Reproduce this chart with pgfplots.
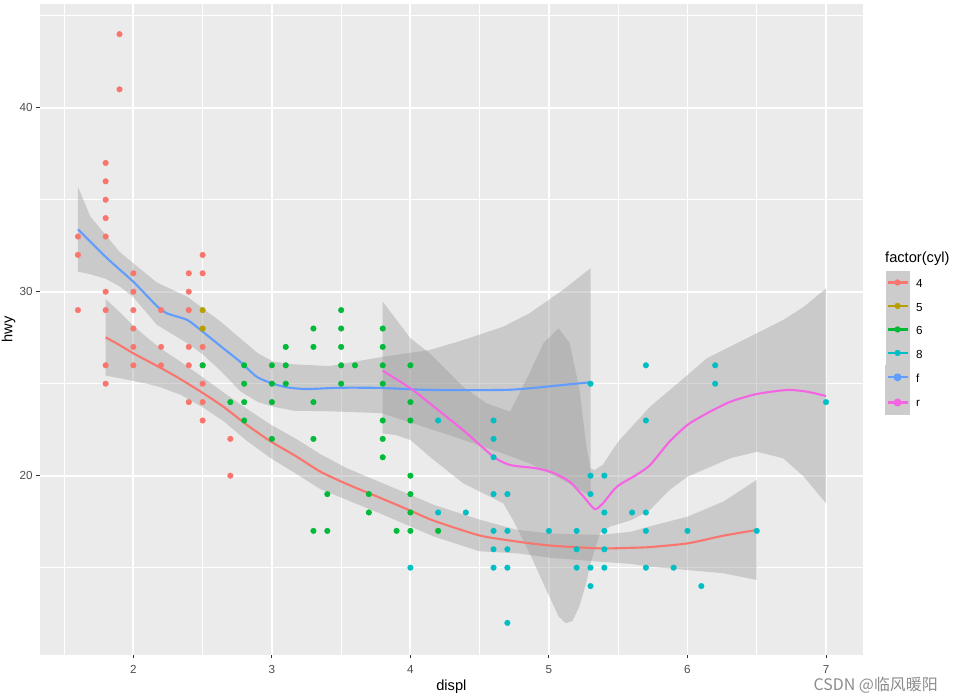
\documentclass[border=0pt]{standalone}
\usepackage{fontspec}
\setmainfont{Liberation Sans}
\newfontfamily\cjk{Noto Sans CJK SC}
\usepackage{pgfplots}
\pgfplotsset{compat=1.18}
\definecolor{c4}{HTML}{F8766D}
\definecolor{c5}{HTML}{B79F00}
\definecolor{c6}{HTML}{00BA38}
\definecolor{c8}{HTML}{00BFC4}
\definecolor{cf}{HTML}{619CFF}
\definecolor{cr}{HTML}{F564E3}
\definecolor{panelbg}{HTML}{EBEBEB}
\definecolor{ribbon}{HTML}{999999}
\definecolor{keybg}{HTML}{CCCCCC}
\definecolor{gray20}{HTML}{333333}
\definecolor{gray30}{HTML}{4D4D4D}
\pgfplotsset{
  legkey/.style={legend image code/.code={
    \fill[keybg] (0bp,-11.55bp) rectangle (23bp,11.55bp);
    \draw[line width=2.1bp,solid] (1.5bp,0bp) -- (21.5bp,0bp);
    \fill (11.5bp,0bp) circle (2.9bp);
  }},
  pts/.style={only marks, mark=*, mark size=2.8bp, mark options={draw=none}},
  rib/.style={forget plot, draw=none, fill=ribbon, fill opacity=0.4},
  sline/.style={no markers, line width=2.1bp, smooth, tension=0.4},
}
\begin{document}
\begin{tikzpicture}[x=1bp,y=1bp]
\useasboundingbox (0,0) rectangle (954,699);
\begin{axis}[
  at={(40bp,44.3bp)}, anchor=south west,
  scale only axis, width=822.7bp, height=650.7bp,
  xmin=1.326, xmax=7.265, ymin=10.27, ymax=45.64,
  axis background/.style={fill=panelbg},
  axis line style={draw=none},
  xtick={2,3,4,5,6,7}, ytick={20,30,40},
  minor xtick={1.5,2.5,3.5,4.5,5.5,6.5}, minor ytick={15,25,35,45},
  grid=both,
  major grid style={white, line width=1.9bp},
  minor grid style={white, line width=0.95bp},
  tick align=outside, tick pos=left,
  major tick length=3.7bp, minor tick length=0pt,
  major tick style={color=gray20, line width=1bp},
  /pgf/number format/assume math mode=true,
  tick label style={font=\fontsize{11.7}{14}\selectfont, text=gray30},
  xticklabel style={anchor=north, inner sep=0pt, yshift=-6.4bp},
  yticklabel style={anchor=east, inner sep=0pt, xshift=-3.6bp},
  xlabel={displ}, ylabel={hwy},
  label style={font=\fontsize{14.7}{17}\selectfont},
  xlabel style={at={(axis description cs:0.5,0)}, anchor=base, yshift=-36bp},
  ylabel style={at={(axis description cs:-0.03343,0.5)}, anchor=base},
  legend style={at={(axis description cs:1.0271,0.5901)}, anchor=north west,
    draw=none, fill=none, inner sep=0pt, outer sep=0pt, row sep=0pt, column sep=6bp,
    font=\fontsize{11.7}{14}\selectfont, nodes={inner sep=0pt, yshift=-2bp}},
  legend cell align=left,
]
% ---- points by cyl ----
\addplot[pts, color=c4, legkey] coordinates {
(1.6,33)(1.6,32)(1.6,29)
(1.8,37)(1.8,36)(1.8,35)(1.8,34)(1.8,33)(1.8,30)(1.8,29)(1.8,26)(1.8,25)
(1.9,44)(1.9,41)
(2.0,31)(2.0,30)(2.0,29)(2.0,28)(2.0,27)(2.0,26)
(2.2,29)(2.2,27)(2.2,26)
(2.4,31)(2.4,30)(2.4,29)(2.4,27)(2.4,26)(2.4,24)
(2.5,32)(2.5,31)(2.5,27)(2.5,26)(2.5,25)(2.5,24)(2.5,23)
(2.7,22)(2.7,20)};
\addlegendentry{4}
\addplot[pts, color=c5, legkey] coordinates {(2.5,29)(2.5,28)};
\addlegendentry{5}
\addplot[pts, color=c6, legkey] coordinates {
(2.5,26)(2.7,24)
(2.8,26)(2.8,25)(2.8,24)(2.8,23)
(3.0,26)(3.0,25)(3.0,24)(3.0,22)
(3.1,27)(3.1,26)(3.1,25)
(3.3,28)(3.3,27)(3.3,24)(3.3,22)(3.3,17)
(3.4,19)(3.4,17)
(3.5,29)(3.5,28)(3.5,27)(3.5,26)(3.5,25)
(3.6,26)
(3.7,19)(3.7,18)
(3.8,28)(3.8,27)(3.8,26)(3.8,25)(3.8,23)(3.8,22)(3.8,21)
(3.9,17)
(4.0,26)(4.0,24)(4.0,23)(4.0,20)(4.0,19)(4.0,18)(4.0,17)
(4.2,17)};
\addlegendentry{6}
\addplot[pts, color=c8, legkey] coordinates {
(4.0,15)
(4.2,23)(4.2,18)
(4.4,18)
(4.6,23)(4.6,22)(4.6,21)(4.6,19)(4.6,17)(4.6,16)(4.6,15)
(4.7,19)(4.7,17)(4.7,16)(4.7,15)(4.7,12)
(5.0,17)
(5.2,17)(5.2,16)(5.2,15)
(5.3,25)(5.3,20)(5.3,19)(5.3,15)(5.3,14)
(5.4,20)(5.4,18)(5.4,17)(5.4,16)(5.4,15)
(5.6,18)
(5.7,26)(5.7,23)(5.7,18)(5.7,17)(5.7,15)
(5.9,15)(6.0,17)(6.1,14)
(6.2,26)(6.2,25)
(6.5,17)(7.0,24)};
\addlegendentry{8}
% ---- confidence ribbons ----
% drv 4
\addplot[rib] coordinates {
(1.8,29.60)(1.9,28.90)(2.0,28.15)(2.1,27.50)(2.2,26.90)(2.34,26.20)(2.5,25.35)(2.65,24.53)
(2.82,23.63)(2.99,22.78)(3.18,21.98)(3.35,21.17)(3.54,20.41)(3.78,19.65)(4.0,18.96)(4.17,18.41)
(4.5,17.61)(4.77,17.06)(5.01,16.86)(5.37,16.78)(5.59,16.95)(5.73,17.25)(6.0,17.77)(6.26,18.60)(6.5,19.77)
(6.5,14.33)(6.26,14.70)(6.0,14.87)(5.73,15.05)(5.59,15.21)(5.37,15.32)(5.01,15.54)(4.77,15.78)
(4.5,15.89)(4.17,16.69)(4.0,17.24)(3.78,17.95)(3.54,18.69)(3.35,19.27)(3.18,20.08)(2.99,20.96)
(2.82,21.89)(2.65,22.97)(2.5,23.72)(2.34,24.40)(2.2,24.80)(2.1,25.00)(2.0,25.15)(1.9,25.30)(1.8,25.44)
} -- cycle;
% drv f
\addplot[rib] coordinates {
(1.6,35.70)(1.69,34.08)(1.8,33.08)(1.9,32.17)(2.0,31.54)(2.17,30.50)(2.39,29.73)(2.5,29.10)
(2.63,28.37)(2.77,27.47)(2.9,26.65)(3.01,26.20)(3.16,26.05)(3.42,25.96)(3.79,26.45)(4.14,26.83)
(4.38,27.37)(4.67,28.10)(4.86,28.83)(5.1,30.09)(5.3,31.27)
(5.3,18.90)(5.1,19.77)(4.86,20.67)(4.67,21.20)(4.38,21.95)(4.14,22.55)(3.79,23.40)(3.42,23.50)
(3.16,23.53)(3.01,23.75)(2.9,24.00)(2.77,24.60)(2.63,25.70)(2.5,26.60)(2.39,27.20)(2.17,28.20)
(2.0,29.70)(1.9,30.30)(1.8,30.70)(1.69,30.95)(1.6,31.09)
} -- cycle;
% drv r
\addplot[rib] coordinates {
(3.8,29.46)(4.0,27.47)(4.14,26.65)(4.38,24.84)(4.55,23.93)(4.72,23.48)(4.86,25.57)(4.96,27.20)
(5.07,28.01)(5.15,27.20)(5.22,24.70)(5.27,21.60)(5.30,20.40)(5.33,20.30)(5.39,20.60)(5.45,21.30)
(5.51,21.94)(5.73,23.75)(6.0,25.47)(6.14,26.38)(6.5,27.74)(6.69,28.46)(6.84,29.18)(7.0,30.18)
(7.0,18.50)(6.84,19.95)(6.69,20.95)(6.5,21.30)(6.31,20.95)(6.14,20.40)(6.0,19.95)(5.87,19.22)
(5.73,18.14)(5.6,17.60)(5.44,17.23)(5.37,16.90)(5.30,15.24)(5.27,14.20)(5.22,12.90)(5.17,12.10)
(5.12,11.98)(5.07,12.35)(4.98,13.80)(4.86,15.80)(4.74,17.60)(4.67,18.50)(4.43,19.40)(4.38,19.59)
(4.14,21.03)(4.0,21.94)(3.9,22.20)(3.8,22.30)
} -- cycle;
% ---- smooth lines ----
\addplot[sline, color=c4, forget plot] coordinates {
(1.8,27.52)(1.9,27.10)(2.0,26.65)(2.1,26.25)(2.2,25.85)(2.34,25.25)(2.5,24.50)(2.65,23.75)
(2.82,22.76)(2.99,21.87)(3.18,21.03)(3.35,20.22)(3.54,19.55)(3.78,18.80)(4.0,18.10)(4.17,17.55)
(4.5,16.75)(4.77,16.42)(5.01,16.20)(5.37,16.05)(5.59,16.08)(5.73,16.12)(6.0,16.32)(6.26,16.74)(6.5,17.05)};
\addplot[sline, color=cf, legkey] coordinates {
(1.6,33.39)(1.81,31.82)(2.0,30.54)(2.17,29.22)(2.24,28.83)(2.39,28.46)(2.5,27.83)(2.65,26.92)
(2.77,26.20)(2.89,25.38)(3.0,25.02)(3.11,24.80)(3.25,24.71)(3.49,24.78)(3.79,24.77)(4.14,24.66)
(4.67,24.66)(4.86,24.75)(5.1,24.93)(5.3,25.08)};
\addlegendentry{f}
\addplot[sline, color=cr, legkey] coordinates {
(3.8,25.71)(4.0,24.75)(4.14,23.93)(4.38,22.48)(4.6,21.03)(4.72,20.58)(4.91,20.40)(5.03,20.16)
(5.15,19.67)(5.25,18.86)(5.33,18.19)(5.39,18.50)(5.49,19.40)(5.63,20.04)(5.73,20.58)(5.87,21.85)
(6.0,22.76)(6.14,23.39)(6.31,24.02)(6.5,24.44)(6.72,24.66)(6.86,24.57)(7.0,24.33)};
\addlegendentry{r}
\end{axis}
\node[anchor=base west, inner sep=0pt, font=\fontsize{14.7}{17}\selectfont] at (885,436.5) {factor(cyl)};
\node[anchor=base east, inner sep=0pt, text=black!45, font=\cjk\fontsize{16}{19}\selectfont] at (938,8.5) {CSDN @临风暖阳};
\end{tikzpicture}
\end{document}
